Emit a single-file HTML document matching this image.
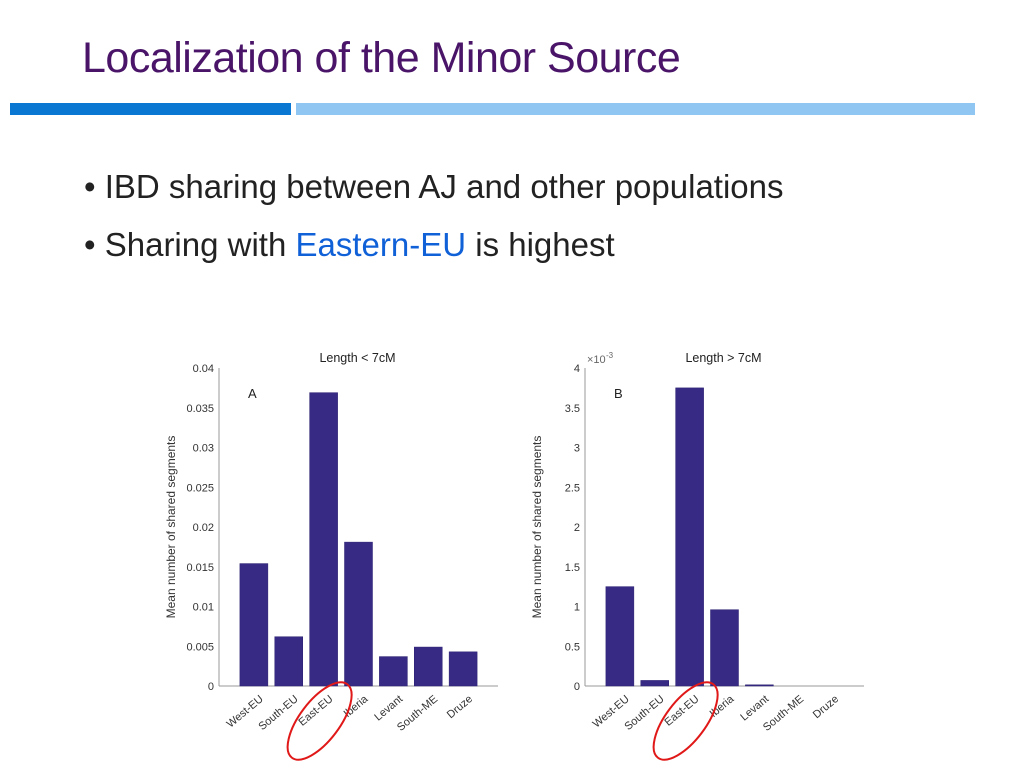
<!DOCTYPE html>
<html><head><meta charset="utf-8"><style>
body{margin:0;background:#fff;}
#page{position:relative;width:1024px;height:768px;overflow:hidden;font-family:"Liberation Sans",sans-serif;}
.title{position:absolute;left:82px;top:34px;font-size:43px;color:#4a1568;font-family:"Liberation Sans",sans-serif;letter-spacing:-0.5px;}
.bul{position:absolute;left:84px;font-size:33px;color:#222;}
</style></head><body>
<div id="page">
<div class="title">Localization of the Minor Source</div>
<div style="position:absolute;left:10px;top:103px;width:281px;height:12px;background:#0a78d2"></div>
<div style="position:absolute;left:296px;top:103px;width:679px;height:12px;background:#8fc6f2"></div>
<div class="bul" style="top:168px">• IBD sharing between AJ and other populations</div>
<div class="bul" style="top:226px">• Sharing with <span style="color:#1060d8">Eastern-EU</span> is highest</div>
<svg id="svg" width="1024" height="768" style="position:absolute;left:0;top:0"></svg>
</div>
<script>
const categories=["West-EU","South-EU","East-EU","Iberia","Levant","South-ME","Druze"];
const valuesA=[0.0154,0.0062,0.0369,0.0181,0.0037,0.0049,0.0043];
const valuesB=[1.25,0.07,3.75,0.96,0.015,0,0];
const ticksA=["0","0.005","0.01","0.015","0.02","0.025","0.03","0.035","0.04"];
const ticksB=["0","0.5","1","1.5","2","2.5","3","3.5","4"];
const NS="http://www.w3.org/2000/svg";
const svg=document.getElementById('svg');
function mk(t,a,txt){const e=document.createElementNS(NS,t);for(const k in a)e.setAttribute(k,a[k]);if(txt!==undefined)e.textContent=txt;svg.appendChild(e);return e;}
function chart(x0,x1,vals,ticks,ymax,title,letter,exp){
  const y0=686,y1=368;
  const ys=v=>y0-(v/ymax)*(y0-y1);
  const step=(x1-x0)/(categories.length+1);
  const xs=i=>x0+step*(i+1);
  let e=mk('line',{x1:x0,y1:y1,x2:x0,y2:y0,stroke:'#999','stroke-width':1});
  
  e=mk('line',{x1:x0,y1:y0,x2:x1,y2:y0,stroke:'#999','stroke-width':1});
  
  ticks.forEach((t,i)=>{const v=ymax*i/(ticks.length-1);
    e=mk('text',{x:x0-5,y:ys(v)+4,'text-anchor':'end','font-size':11,fill:'#333'},t);
    });
  vals.forEach((v,i)=>{const h=y0-ys(v);
    e=mk('rect',{x:xs(i)-14,y:ys(v),width:28,height:Math.max(h,0),fill:'#372a85',stroke:'#2a2070','stroke-width':0.5});
    
    e=mk('text',{x:xs(i)+10,y:y0+14,'text-anchor':'end','font-size':11,fill:'#333',transform:`rotate(-40 ${xs(i)+10} ${y0+14})`},categories[i]);
    });
  e=mk('text',{x:(x0+x1)/2-1,y:362,'text-anchor':'middle','font-size':12.5,fill:'#222'},title);
  
  e=mk('text',{x:x0+29,y:398,'font-size':13,fill:'#222'},letter);
  
  e=mk('text',{x:0,y:0,'text-anchor':'middle','font-size':12,fill:'#333',transform:`translate(${x0-44} ${(y0+y1)/2}) rotate(-90)`},'Mean number of shared segments');
  
  if(exp){e=mk('text',{x:x0+2,y:363,'font-size':11,fill:'#666'},'×10');
    e=mk('text',{x:x0+21,y:358,'font-size':8,fill:'#666'},'-3');}
  const cx=xs(2)-4,cy=y0+35;
  e=mk('ellipse',{cx:cx,cy:cy,rx:20,ry:46,fill:'none',stroke:'#e01818','stroke-width':2,transform:`rotate(37 ${cx} ${cy})`});
  
}
chart(219,498,valuesA,ticksA,0.04,'Length < 7cM','A',false);
chart(585,864,valuesB,ticksB,4,'Length > 7cM','B',true);
</script>
</body></html>
